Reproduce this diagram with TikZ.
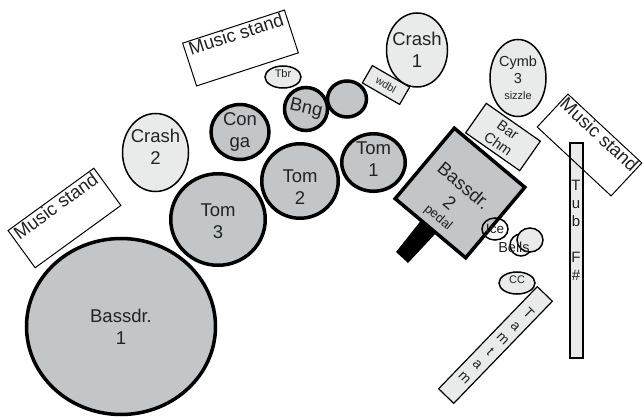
\documentclass[tikz,border=0pt]{standalone}
\usepackage{fontspec}
\setmainfont{Liberation Sans}
\usetikzlibrary{shapes.geometric}

\definecolor{drumgray}{HTML}{C3C6C9}
\definecolor{cymbgray}{HTML}{E9EBEB}
\definecolor{inkgray}{HTML}{222222}

\begin{document}
\begin{tikzpicture}[x=1pt, y=-1pt]
	\tikzstyle{drum}=[ellipse, draw=black, line width=3.5pt, fill=drumgray, inner sep=0pt]
	\tikzstyle{cymbal}=[ellipse, draw=black, line width=1.5pt, fill=cymbgray, inner sep=0pt]
	\tikzstyle{bar}=[rectangle, draw=black, line width=1.2pt, fill=cymbgray, inner sep=0pt, align=center, text=inkgray]
	\tikzstyle{stand}=[rectangle, draw=black, line width=1pt, inner sep=0pt]
	\tikzstyle{bigtext}=[font=\fontsize{18.5}{22}\selectfont, align=center, text=inkgray]
	\tikzstyle{midtext}=[font=\fontsize{14.5}{17}\selectfont, align=center, text=inkgray]
	\tikzstyle{smalltext}=[font=\fontsize{11}{13}\selectfont, align=center, text=inkgray]
	\tikzstyle{standtext}=[bigtext, anchor=north, inner sep=1.5pt]

	\useasboundingbox (0,0) rectangle (643,417);

	% drums
	\begin{scope}
		\node (bass1) [drum, minimum width=189pt, minimum height=176pt, label={[bigtext]center:Bassdr.\\1}] at (121,326.5) {};
		\node (tom3) [drum, minimum width=94.5pt, minimum height=91.5pt, label={[bigtext, yshift=-2pt]center:Tom\\3}] at (218,219.5) {};
		\node (tom2) [drum, minimum width=76.5pt, minimum height=74.5pt, label={[bigtext, yshift=-6pt]center:Tom\\2}] at (300,181) {};
		\node (tom1) [drum, minimum width=63.5pt, minimum height=57.5pt, label={[bigtext, yshift=3pt]center:Tom\\1}] at (373.5,162.5) {};
		\node (conga) [drum, minimum width=58pt, minimum height=55pt, label={[bigtext]center:Con\\ga}] at (240,132) {};
		\node (bongo) [drum, minimum width=43pt, minimum height=43pt, label={[bigtext, rotate=-13]center:Bng}] at (306,109) {};
		\node (bongotwo) [drum, minimum width=39pt, minimum height=36pt] at (347,99) {};
	\end{scope}

	% bass drum on the right, with its pedal
	\begin{scope}
		\fill [black] (423,218) -- (437,232) -- (408,263) -- (396,252) -- cycle;
		\node (bass2) [drum, rectangle, minimum width=92pt, minimum height=92pt, rotate=-40] at (460,193) {};
		\node (bass2text) [bigtext, rotate=-40] at (457,194) {Bassdr.\\2};
		\node (pedal) [midtext, font=\fontsize{13}{15}\selectfont, rotate=-40] at (438,218) {pedal};
	\end{scope}

	% cymbals and small stuff
	\begin{scope}
		\node (wdbl) [bar, minimum width=43pt, minimum height=20pt, rotate=-30, font=\fontsize{10.5}{12}\selectfont] at (386,85) {wdbl};
		\node (crash1) [cymbal, minimum width=61pt, minimum height=74pt, label={[bigtext]center:Crash\\1}] at (417,50) {};
		\node (crash2) [cymbal, minimum width=66pt, minimum height=78pt, label={[bigtext, yshift=6pt]center:Crash\\2}] at (155.5,152.5) {};
		\node (tbr) [cymbal, minimum width=36pt, minimum height=22pt, label={[smalltext, yshift=3pt]center:Tbr}] at (283,77) {};
		\node (barchm) [bar, minimum width=66pt, minimum height=36pt, rotate=-35, font=\fontsize{14.5}{17}\selectfont] at (503,137) {Bar\\Chm};
		\node (cymb3) [cymbal, minimum width=56pt, minimum height=77pt, label={[midtext]center:Cymb\\3\\[-1pt]{\fontsize{11}{13}\selectfont sizzle}}] at (518,78) {};
		\node (cc) [cymbal, minimum width=36pt, minimum height=22pt, label={[smalltext, yshift=3pt]center:CC}] at (517,283) {};
	\end{scope}

	% ice and bells
	\begin{scope}
		\node (ice) [cymbal, fill=none, minimum width=26pt, minimum height=22pt, label={[midtext, font=\fontsize{13.5}{16}\selectfont]center:Ice}] at (495,229) {};
		\node (bellone) [cymbal, fill=none, minimum width=22pt, minimum height=22pt] at (521,245) {};
		\node (belltwo) [cymbal, minimum width=26pt, minimum height=24pt] at (530,240) {};
		\node (bells) [midtext] at (514,247) {Bells};
	\end{scope}

	% long bars
	\begin{scope}
		\node (tub) [bar, line width=2pt, minimum width=13pt, minimum height=214pt] at (576,250.5) {};
		\node (tubtext) [midtext, font=\fontsize{15}{18}\selectfont, anchor=north] at (576,177) {T\\u\\b\\\mbox{}\\F\\\#};
		\node (tam) [bar, minimum width=142pt, minimum height=21pt, rotate=46] at (495.5,345) {};
		\node (tamtext) [midtext, font=\fontsize{14}{18}\selectfont, rotate=-45] at (497,345) {T\\a\\m\\t\\a\\m};
	\end{scope}

	% music stands
	\begin{scope}
		\node (standleft) [stand, minimum width=106pt, minimum height=46pt, rotate=36] at (64.5,218) {};
		\node (standlefttext) [standtext, rotate=36] at (standleft.north) {Music stand};
		\node (standtop) [stand, minimum width=107pt, minimum height=45pt, rotate=18] at (240.5,48) {};
		\node (standtoptext) [standtext, rotate=18] at (standtop.north) {Music stand};
		\node (standright) [stand, minimum width=101pt, minimum height=45pt, rotate=-43] at (589.5,145) {};
		\node (standrighttext) [standtext, rotate=-43] at (standright.north) {Music stand};
	\end{scope}
\end{tikzpicture}
\end{document}
